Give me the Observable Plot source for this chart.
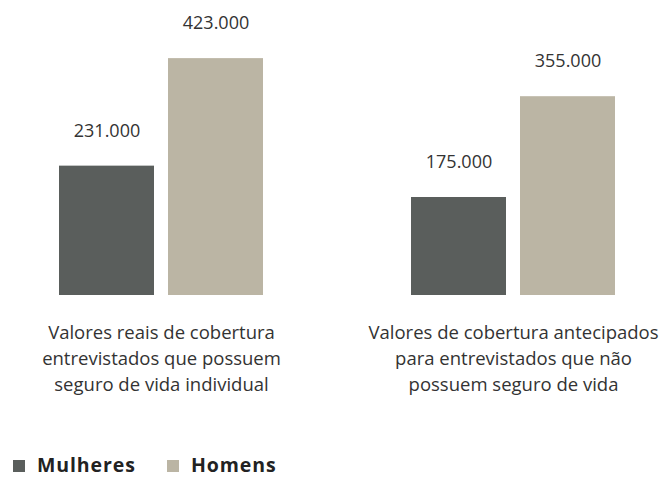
<!DOCTYPE html>
<html>
<head>
<meta charset="utf-8">
<script src="https://cdn.jsdelivr.net/npm/d3@7"></script>
<script src="https://cdn.jsdelivr.net/npm/@observablehq/plot@0.6"></script>
<style>
  body { margin: 0; background: #fff; font-family: "Open Sans", sans-serif; overflow: hidden; }
  #chart { position: relative; width: 661px; height: 478px; }
  .legend { position: absolute; top: 454px; left: 0; height: 22px; width: 661px; }
  .legend .sw { position: absolute; top: 6px; width: 12px; height: 12px; }
  .legend .lb { position: absolute; top: 0; font-weight: 700; font-size: 19.5px; line-height: 22px; letter-spacing: 0.9px; color: #222; white-space: nowrap; }
</style>
</head>
<body>
<div id="chart"></div>
<script>
const groups = [
  "Valores reais de cobertura\nentrevistados que possuem\nseguro de vida individual",
  "Valores de cobertura antecipados\npara entrevistados que não\npossuem seguro de vida"
];
const sexes = ["Mulheres", "Homens"];
const mulheres = [231000, 175000];
const homens = [423000, 355000];
const colors = ["#5a5e5c", "#bbb5a4"];

const data = [];
groups.forEach((g, i) => {
  data.push({group: g, sex: sexes[0], value: mulheres[i]});
  data.push({group: g, sex: sexes[1], value: homens[i]});
});
const fmt = d3.formatLocale({decimal: ",", thousands: ".", grouping: [3], currency: ["", ""]}).format(",d");

const plot = Plot.plot({
  width: 661,
  height: 440,
  marginLeft: 57,
  marginRight: 45,
  marginTop: 15,
  marginBottom: 145,
  style: {fontFamily: "Open Sans, sans-serif", color: "#333", background: "#fff", overflow: "visible"},
  fx: {domain: groups, paddingInner: 0.416, paddingOuter: 0, axis: null},
  x: {domain: sexes, paddingInner: 0.127, paddingOuter: 0, axis: null},
  y: {domain: [0, 500000], axis: null},
  color: {domain: sexes, range: colors},
  marks: [
    Plot.barY(data, {fx: "group", x: "sex", y: "value", fill: "sex"}),
    Plot.text(data, {fx: "group", x: "sex", y: "value", text: d => fmt(d.value), dy: -35, fontSize: 18, fill: "#333"}),
    Plot.text(groups, {fx: d => d, text: d => d, frameAnchor: "bottom", lineAnchor: "top", dy: 25, fontSize: 18.5, lineHeight: 26 / 18.5, fill: "#333"})
  ]
});
const chart = document.getElementById("chart");
chart.appendChild(plot);

const legend = document.createElement("div");
legend.className = "legend";
const pos = [[13, 37], [167, 191]];
sexes.forEach((s, i) => {
  const sw = document.createElement("span");
  sw.className = "sw";
  sw.style.left = pos[i][0] + "px";
  sw.style.background = colors[i];
  const lb = document.createElement("span");
  lb.className = "lb";
  lb.style.left = pos[i][1] + "px";
  lb.textContent = s;
  legend.appendChild(sw);
  legend.appendChild(lb);
});
chart.appendChild(legend);
</script>
</body>
</html>
